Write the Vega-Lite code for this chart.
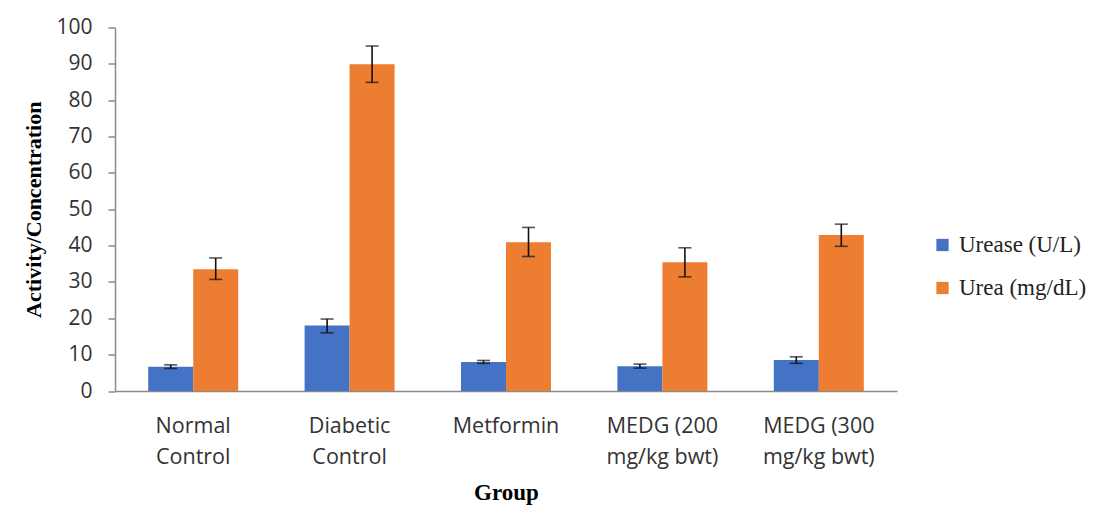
{
  "$schema": "https://vega.github.io/schema/vega-lite/v6.json",
  "width": 782,
  "height": 363.5,
  "autosize": "none",
  "padding": {"left": 115, "top": 27.5, "right": 197, "bottom": 115},
  "background": "white",
  "config": {
    "view": {"stroke": null},
    "axisY": {
      "titleFont": "Liberation Serif", "titleFontSize": 22, "titleFontWeight": "bold", "titleColor": "#000",
      "titlePadding": 10,
      "labelOverlap": false, "labelBound": false,
      "grid": false,
      "labelFont": "Open Sans", "labelFontSize": 21, "labelColor": "#333",
      "labelPadding": 16,
      "tickSize": 7, "tickColor": "#8a8a8a", "tickWidth": 1.5,
      "domainColor": "#8a8a8a", "domainWidth": 1.5
    }
  },
  "data": {"values": [
    {"group": "Normal Control", "series": "Urease (U/L)", "value": 6.7, "lo": 6.2, "hi": 7.2},
    {"group": "Normal Control", "series": "Urea (mg/dL)", "value": 33.5, "lo": 30.7, "hi": 36.6},
    {"group": "Diabetic Control", "series": "Urease (U/L)", "value": 18.0, "lo": 16.0, "hi": 19.8},
    {"group": "Diabetic Control", "series": "Urea (mg/dL)", "value": 89.9, "lo": 84.9, "hi": 94.9},
    {"group": "Metformin", "series": "Urease (U/L)", "value": 8.0, "lo": 7.6, "hi": 8.4},
    {"group": "Metformin", "series": "Urea (mg/dL)", "value": 40.9, "lo": 37.0, "hi": 45.0},
    {"group": "MEDG (200 mg/kg bwt)", "series": "Urease (U/L)", "value": 6.8, "lo": 6.3, "hi": 7.4},
    {"group": "MEDG (200 mg/kg bwt)", "series": "Urea (mg/dL)", "value": 35.4, "lo": 31.4, "hi": 39.4},
    {"group": "MEDG (300 mg/kg bwt)", "series": "Urease (U/L)", "value": 8.5, "lo": 7.6, "hi": 9.4},
    {"group": "MEDG (300 mg/kg bwt)", "series": "Urea (mg/dL)", "value": 42.9, "lo": 39.8, "hi": 45.9}
  ]},
  "encoding": {
    "x": {
      "field": "group", "type": "nominal", "sort": null,
      "scale": {"paddingInner": 0.4246, "paddingOuter": 0.2123},
      "axis": {
        "title": "Group",
        "titleFont": "Liberation Serif", "titleFontSize": 23, "titleFontWeight": "bold", "titleColor": "#000",
        "titlePadding": 14,
        "labelAngle": 0,
        "labelFont": "Open Sans", "labelFontSize": 21.5, "labelColor": "#333",
        "labelLineHeight": 31, "labelPadding": 24,
        "labelExpr": "datum.label == 'Normal Control' ? ['Normal', 'Control'] : datum.label == 'Diabetic Control' ? ['Diabetic', 'Control'] : datum.label == 'MEDG (200 mg/kg bwt)' ? ['MEDG (200', 'mg/kg bwt)'] : datum.label == 'MEDG (300 mg/kg bwt)' ? ['MEDG (300', 'mg/kg bwt)'] : datum.label",
        "ticks": false,
        "domainColor": "#8a8a8a", "domainWidth": 1.5
      }
    },
    "xOffset": {"field": "series", "type": "nominal", "sort": ["Urease (U/L)", "Urea (mg/dL)"], "scale": {"paddingInner": 0, "paddingOuter": 0}}
  },
  "layer": [
    {
      "mark": {"type": "bar"},
      "encoding": {
        "y": {
          "field": "value", "type": "quantitative",
          "scale": {"domain": [0, 100], "nice": false},
          "axis": {"title": "Activity/Concentration", "values": [0, 10, 20, 30, 40, 50, 60, 70, 80, 90, 100]}
        },
        "color": {
          "field": "series", "type": "nominal",
          "sort": ["Urease (U/L)", "Urea (mg/dL)"],
          "scale": {"domain": ["Urease (U/L)", "Urea (mg/dL)"], "range": ["#4472C4", "#ED7D31"]},
          "legend": {
            "title": null,
            "orient": "none", "legendX": 816, "legendY": 206,
            "symbolType": "square", "symbolSize": 150, "symbolStrokeWidth": 0,
            "labelFont": "Liberation Serif", "labelFontSize": 23, "labelColor": "#222",
            "labelOffset": 5, "rowPadding": 19
          }
        }
      }
    },
    {
      "mark": {"type": "rule", "color": "#111", "strokeWidth": 1.6},
      "encoding": {
        "y": {"field": "lo", "type": "quantitative", "axis": {"title": "Activity/Concentration", "values": [0, 10, 20, 30, 40, 50, 60, 70, 80, 90, 100]}},
        "y2": {"field": "hi"}
      }
    },
    {
      "mark": {"type": "tick", "color": "#111", "thickness": 1.6, "size": 13},
      "encoding": {"y": {"field": "lo", "type": "quantitative", "axis": {"title": "Activity/Concentration", "values": [0, 10, 20, 30, 40, 50, 60, 70, 80, 90, 100]}}}
    },
    {
      "mark": {"type": "tick", "color": "#111", "thickness": 1.6, "size": 13},
      "encoding": {"y": {"field": "hi", "type": "quantitative", "axis": {"title": "Activity/Concentration", "values": [0, 10, 20, 30, 40, 50, 60, 70, 80, 90, 100]}}}
    }
  ]
}
